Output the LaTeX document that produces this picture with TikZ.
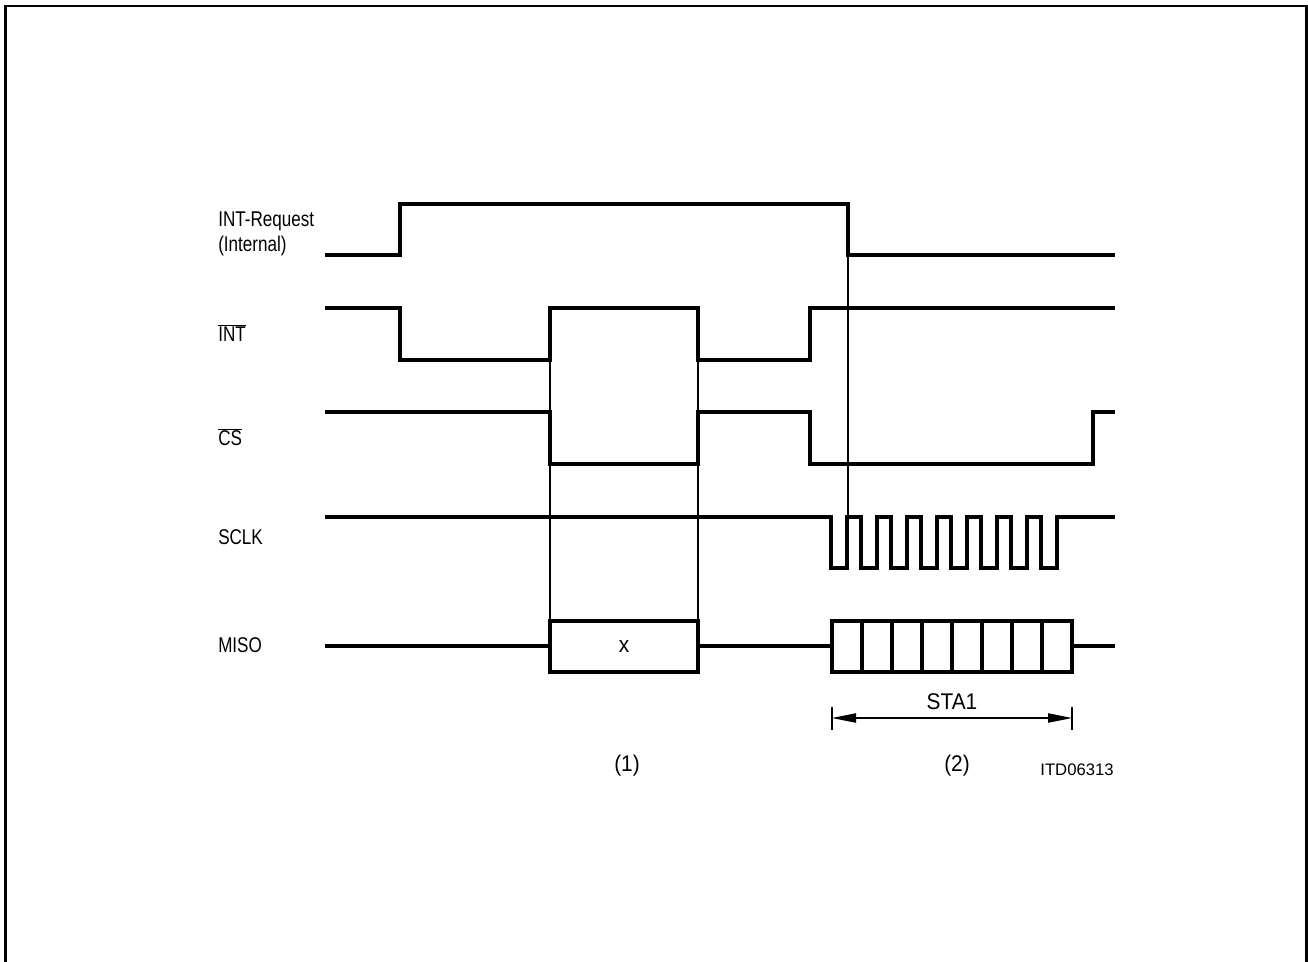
\documentclass[tikz,border=0pt]{standalone}
\usepackage{fontspec}
\setmainfont[FakeStretch=0.92]{Liberation Sans}
\newfontfamily\narrowfont[FakeStretch=0.8]{Liberation Sans}
\newfontfamily\plainfont{Liberation Sans}
\usetikzlibrary{arrows.meta}
\tikzset{
  sig/.style={line width=2.3pt, line join=miter},
  guide/.style={line width=0.8pt},
  lbl/.style={anchor=west, inner sep=0pt, font=\narrowfont\fontsize{16pt}{18.5pt}\selectfont},
  txt/.style={inner sep=0pt, font=\fontsize{17pt}{20pt}\selectfont},
  small/.style={inner sep=0pt, font=\plainfont\fontsize{12.5pt}{14pt}\selectfont},
}
\begin{document}
\begin{tikzpicture}[x=0.75pt,y=-0.75pt]
\useasboundingbox (0,0) rectangle (1308,962);
% frame (bottom edge not shown)
\draw[line width=2pt] (5.5,962) -- (5.5,6) -- (1306.5,6) -- (1306.5,962);

% labels
\node[lbl, align=left] (lreq) at (218,234) {INT-Request\\(Internal)};
\node[lbl] (lint) at (218,333) {$\overline{\hbox{INT}}$};
\node[lbl] (lcs) at (218,437) {$\overline{\hbox{CS}}$};
\node[lbl] (lsclk) at (218,537) {SCLK};
\node[lbl] (lmiso) at (218,645) {MISO};

% guide lines
\draw[guide] (550,360) -- (550,620);
\draw[guide] (698,360) -- (698,620);
\draw[guide] (848,255) -- (848,517);

% INT-Request
\draw[sig] (325,255) -- (400,255) -- (400,204) -- (848,204) -- (848,255) -- (1115,255);
% INT
\draw[sig] (325,308) -- (400,308) -- (400,360) -- (550,360) -- (550,308) -- (698,308) -- (698,360) -- (810,360) -- (810,308) -- (1115,308);
% CS
\draw[sig] (325,412) -- (550,412) -- (550,464) -- (698,464) -- (698,412) -- (810,412) -- (810,464) -- (1093,464) -- (1093,412) -- (1115,412);
% SCLK
\draw[sig] (325,517) foreach \k in {0,...,7}{ -- ({831+30*\k},517) -- ({831+30*\k},568) -- ({847+30*\k},568) -- ({847+30*\k},517)} -- (1115,517);
% MISO
\draw[sig] (325,646) -- (550,646);
\draw[sig] (550,621) rectangle (698,672);
\node[txt] (xval) at (624,647) {x};
\draw[sig] (698,646) -- (832,646);
\draw[sig] (832,621) rectangle (1072,672);
\foreach \k in {1,...,7}{\draw[sig] ({832+30*\k},621) -- ({832+30*\k},672);}
\draw[sig] (1072,646) -- (1115,646);

% STA1 dimension
\coordinate (da) at (832,718);
\coordinate (db) at (1072,718);
\draw[guide] (832,707) -- (832,730);
\draw[guide] (1072,707) -- (1072,730);
\draw[guide, {Triangle[length=18pt,width=7pt]}-{Triangle[length=18pt,width=7pt]}] (da) -- (db);
\node[txt] (sta) at (952,702) {STA1};

\node[txt] (n1) at (627,766) {(1)};
\node[txt] (n2) at (957,766) {(2)};
\node[small] (itd) at (1077,770) {ITD06313};
\end{tikzpicture}
\end{document}
